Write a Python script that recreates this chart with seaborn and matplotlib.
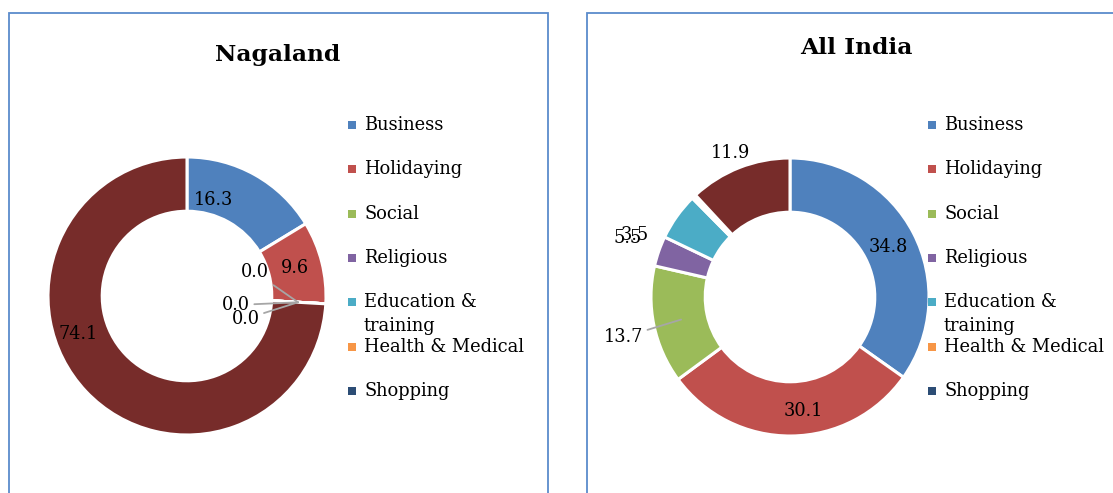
import matplotlib
matplotlib.use("Agg")
import matplotlib.pyplot as plt
import seaborn as sns
import numpy as np
from matplotlib.patches import Rectangle

# Style
sns.set_style("white")
plt.rcParams['font.family'] = ['DejaVu Serif']
plt.rcParams['text.color'] = 'black'

# ---------- Data ----------
categories = ['Business', 'Holidaying', 'Social', 'Religious',
              'Education &\ntraining', 'Health & Medical', 'Shopping', 'Others']
nagaland = [16.3, 9.6, 0.0, 0.0, 0.0, 0.0, 0.0, 74.1]
all_india = [34.8, 30.1, 13.7, 3.5, 5.5, 0.3, 0.2, 11.9]
n_legend = 7  # the last category is cut off from the legend

colors = ['#4F81BD', '#C0504D', '#9BBB59', '#8064A2',
          '#4BACC6', '#F79646', '#2C4D75', '#772C2A']

# label placement (data units of the pie axes), None = not shown
nagaland_labels = {0: (0.19, 0.69, False), 1: (0.78, 0.20, False),
                   2: (0.49, 0.17, True), 3: (0.35, -0.065, True),
                   4: (0.42, -0.165, True), 7: (-0.78, -0.27, False)}
india_labels = {0: (0.705, 0.36, False), 1: (0.094, -0.82, False),
                2: (-1.20, -0.29, True), 3: (-1.12, 0.446, False),
                4: (-1.165, 0.424, False), 7: (-0.43, 1.036, False)}

W, H = 1113, 493
fig = plt.figure(figsize=(W / 100, H / 100), dpi=100)


def fx(px):
    return px / W


def fy(py):
    return 1 - py / H


border = '#5B8BCB'
R = 139


def panel(x0, x1, title, title_xy, values, labels, center, legend_x):
    # panel frame
    fig.patches.append(Rectangle((fx(x0), fy(520)), fx(x1) - fx(x0), fy(13) - fy(520),
                                 transform=fig.transFigure, fill=False,
                                 edgecolor=border, lw=1.3))
    fig.text(fx(title_xy[0]), fy(title_xy[1]), title, ha='center', va='center',
             fontsize=16.8, fontweight='bold')

    cx, cy = center
    ax = fig.add_axes([fx(cx - R), fy(cy + R), 2 * R / W, 2 * R / H])
    wedges, _ = ax.pie(values, colors=colors, startangle=90, counterclock=False,
                       radius=1, wedgeprops=dict(width=0.39, edgecolor='white',
                                                 linewidth=2.2))
    ax.set_xlim(-1, 1)
    ax.set_ylim(-1, 1)
    ax.axis('off')

    for i, (lx, ly, leader) in labels.items():
        txt = f"{values[i]:.1f}"
        if leader:
            w = wedges[i]
            ang = np.deg2rad((w.theta1 + w.theta2) / 2)
            tx, ty = 0.8 * np.cos(ang), 0.8 * np.sin(ang)
            ax.annotate(txt, xy=(tx, ty), xytext=(lx, ly), ha='center', va='center',
                        fontsize=12.8, annotation_clip=False,
                        arrowprops=dict(arrowstyle='-', color='#A6A6A6', lw=1.3,
                                        shrinkA=1, shrinkB=0))
        else:
            ax.text(lx, ly, txt, ha='center', va='center', fontsize=12.8, clip_on=False)

    # legend
    for k in range(n_legend):
        row_y = 125 + k * 44.3
        fig.patches.append(Rectangle((fx(legend_x - 4), fy(row_y + 4)), 8 / W, 8 / H,
                                     transform=fig.transFigure, color=colors[k], lw=0))
        for j, line in enumerate(categories[k].split('\n')):
            fig.text(fx(legend_x + 12), fy(row_y + j * 24), line, ha='left',
                     va='center', fontsize=12.9)


panel(9, 548, 'Nagaland', (278, 55), nagaland, nagaland_labels, (187, 296), 352)
panel(587, 1200, 'All India', (856, 48), all_india, india_labels, (790, 297), 932)

fig.savefig('out.png', dpi=100, facecolor='white')
